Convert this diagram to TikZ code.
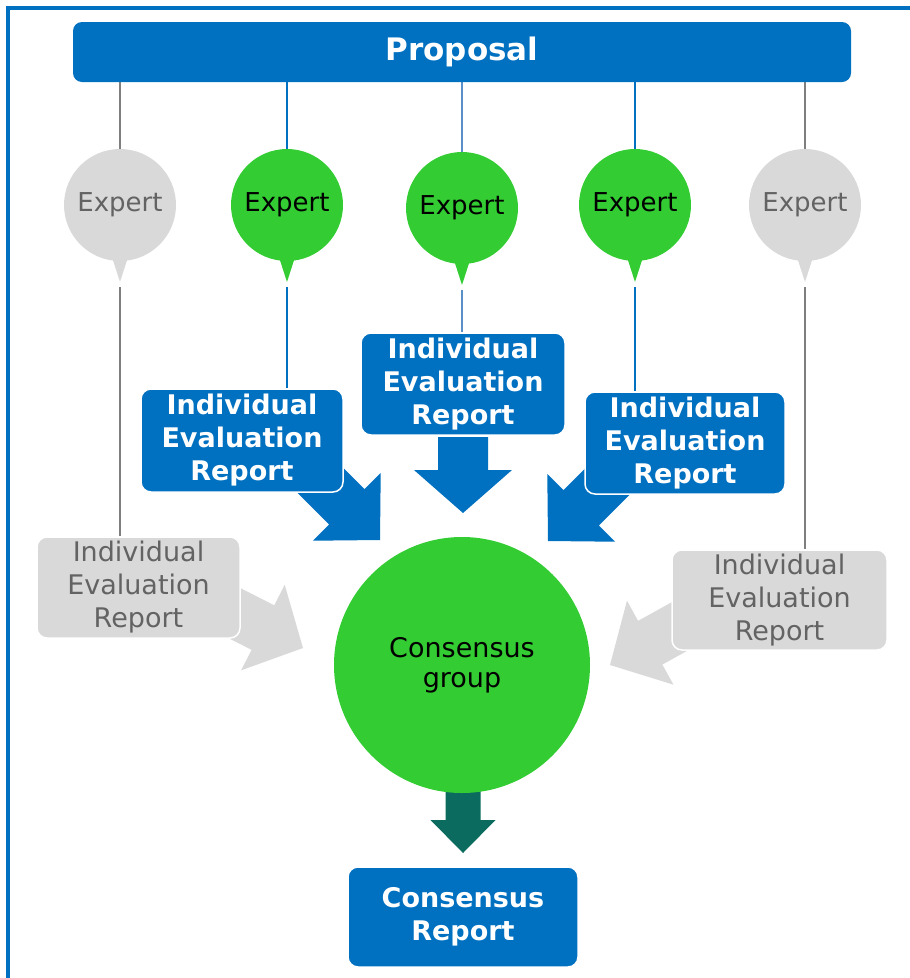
\documentclass[tikz,border=0pt]{standalone}
\usepackage{fontspec}
\setmainfont{DejaVu Sans}
\usetikzlibrary{backgrounds}
\definecolor{mblue}{HTML}{0070C0}
\definecolor{mgreen}{HTML}{33CC33}
\definecolor{mgray}{HTML}{D9D9D9}
\definecolor{mgraytext}{HTML}{636363}
\definecolor{mgrayline}{HTML}{7F7F7F}
\definecolor{mthinblue}{HTML}{5A8FC8}
\definecolor{mdkgreen}{HTML}{0A6B5E}
\newcommand{\blkarrow}[7]{% tip, angle, length, head length, head half width, shaft half width, colour
  \begin{scope}[shift={#1},rotate=#2]
    \fill[#7] (0,0) -- (-#4,#5) -- (-#4,#6) -- (-#3,#6) -- (-#3,-#6) -- (-#4,-#6) -- (-#4,-#5) -- cycle;
  \end{scope}}
\begin{document}
\begin{tikzpicture}[x=1pt,y=-1pt,
  expertbase/.style={circle, minimum size=112pt, inner sep=0pt, font=\fontsize{26}{30}\selectfont},
  expertgreen/.style={expertbase, fill=mgreen, text=black},
  expertgray/.style={expertbase, fill=mgray, text=mgraytext},
  ierblue/.style={fill=mblue, draw=white, line width=1.5pt, rounded corners=10pt, text=white,
    font=\bfseries\fontsize{27}{33}\selectfont, align=center, inner sep=0pt},
  iergray/.style={fill=mgray, draw=white, line width=1.5pt, rounded corners=10pt, text=mgraytext,
    font=\fontsize{27}{33}\selectfont, align=center, inner sep=0pt},
  grayconn/.style={draw=mgrayline, line width=2.5pt},
  blueconn/.style={draw=mblue, line width=2.5pt},
  thinconn/.style={draw=mthinblue, line width=1.3pt}]
\useasboundingbox (0,0) rectangle (910,978);
% frame
\draw[mblue, line width=4pt] (8,978) -- (8,8) -- (910,8);
% proposal
\node[fill=mblue, rounded corners=9pt, minimum width=778pt, minimum height=60pt, inner sep=0pt,
  text=white, font=\bfseries\fontsize{31}{36}\selectfont] (prop) at (462,52) {\raisebox{-3pt}{Proposal}};
% experts
\node[expertgray]  (e1) at (120,205) {Expert};
\node[expertgreen] (e2) at (287,205) {Expert};
\node[expertgreen] (e3) at (462,208) {Expert};
\node[expertgreen] (e4) at (635,205) {Expert};
\node[expertgray]  (e5) at (805,205) {Expert};
% reports
\node[ierblue, minimum width=202pt, minimum height=103pt] (b2) at (242,440.5) {Individual\\Evaluation\\Report};
\node[ierblue, minimum width=204pt, minimum height=102pt] (b3) at (463,384) {Individual\\Evaluation\\Report};
\node[ierblue, minimum width=200pt, minimum height=102pt] (b4) at (685,443) {Individual\\Evaluation\\Report};
\node[iergray, minimum width=203pt, minimum height=101pt] (g1) at (138.5,587.5) {Individual\\Evaluation\\Report};
\node[iergray, minimum width=215pt, minimum height=100pt] (g5) at (779.5,600) {Individual\\Evaluation\\Report};
% consensus
\node[circle, fill=mgreen, minimum size=256pt, inner sep=0pt, align=center,
  font=\fontsize{27}{33}\selectfont] (cg) at (462,665) {\raisebox{-7pt}{Consensus}\\\raisebox{-4pt}{group}};
\node[fill=mblue, draw=white, line width=1.5pt, rounded corners=10pt, minimum width=230pt, minimum height=100pt,
  inner sep=0pt, text=white, align=center, font=\bfseries\fontsize{27}{33}\selectfont] (cr) at (463,917) {Consensus\\Report};
\begin{scope}[on background layer]
  % tails
  \foreach \e/\c in {e1/mgray,e2/mgreen,e3/mgreen,e4/mgreen,e5/mgray}{
    \fill[\c] ([shift={(-10,46)}]\e.center) -- ([shift={(0,77)}]\e.center) coordinate (t\e) -- ([shift={(10,46)}]\e.center) -- cycle;
  }
  % connectors from proposal
  \draw[grayconn] (e1 |- prop.south) -- (e1.north);
  \draw[blueconn] (e2 |- prop.south) -- (e2.north);
  \draw[thinconn] (e3 |- prop.south) -- (e3.north);
  \draw[blueconn] (e4 |- prop.south) -- (e4.north);
  \draw[grayconn] (e5 |- prop.south) -- (e5.north);
  % connectors to reports
  \draw[grayconn] ([yshift=-5pt]te1) -- (te1 |- g1.north);
  \draw[blueconn] ([yshift=-5pt]te2) -- (te2 |- b2.north);
  \draw[thinconn] ([yshift=-5pt]te3) -- (te3 |- b3.north);
  \draw[blueconn] ([yshift=-5pt]te4) -- (te4 |- b4.north);
  \draw[grayconn] ([yshift=-5pt]te5) -- (te5 |- g5.north);
  % block arrows
  \coordinate (a2) at (380,540);
  \coordinate (a3) at (463,513);
  \coordinate (a4) at (548,541);
  \coordinate (a1) at (303,648);
  \coordinate (a5) at (610,665);
  \coordinate (a6) at (463,853);
  \blkarrow{(a2)}{-45}{105}{47}{48}{25}{mblue}
  \blkarrow{(a3)}{-90}{76}{43}{49}{25}{mblue}
  \blkarrow{(a4)}{-135}{105}{47}{48}{25}{mblue}
  \blkarrow{(a1)}{-27}{100}{45}{48}{25}{mgray}
  \blkarrow{(a5)}{209}{100}{46}{48}{25}{mgray}
  \blkarrow{(a6)}{-90}{65}{33}{32.5}{17.5}{mdkgreen}
\end{scope}
\end{tikzpicture}
\end{document}
